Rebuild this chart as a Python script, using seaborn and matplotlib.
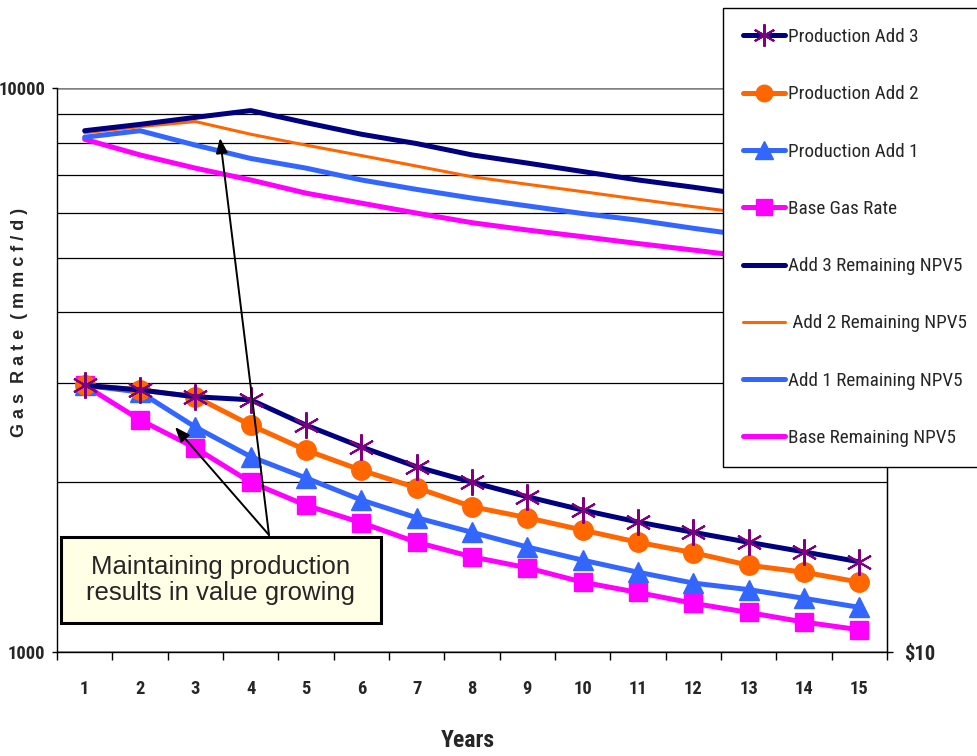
import numpy as np
import pandas as pd
import matplotlib
matplotlib.use("Agg")
import matplotlib.pyplot as plt
from matplotlib import font_manager
from matplotlib.ticker import NullFormatter, FixedLocator
from matplotlib.patches import Rectangle
from matplotlib.transforms import IdentityTransform
import seaborn as sns

# Data
years = list(range(1, 16))

# gas rate, mmcf/d (left axis, log)
base_rate = [2970, 2580, 2300, 2000, 1820, 1695, 1565, 1475, 1410, 1330, 1275, 1220, 1175, 1130, 1095]
add1_rate = [2970, 2890, 2505, 2220, 2035, 1860, 1730, 1630, 1535, 1455, 1385, 1325, 1290, 1245, 1200]
add2_rate = [2970, 2915, 2835, 2525, 2280, 2100, 1955, 1810, 1730, 1645, 1565, 1500, 1425, 1385, 1330]
add3_rate = [2970, 2915, 2835, 2800, 2525, 2310, 2130, 2000, 1885, 1785, 1700, 1630, 1565, 1505, 1445]

# remaining NPV5, $ (right axis, log)
base_npv = [81.1, 76.1, 72.1, 68.7, 65.1, 62.5, 60.0, 57.7, 56.0, 54.5, 53.0, 51.6, 50.2, 48.9, 47.6]
add1_npv = [81.8, 84.0, 79.2, 75.0, 72.1, 68.7, 66.1, 63.8, 61.8, 59.9, 58.3, 56.4, 54.7, 53.1, 51.6]
add2_npv = [83.3, 85.4, 87.2, 82.8, 79.2, 75.9, 72.7, 69.6, 67.5, 65.5, 63.5, 61.6, 59.9, 58.3, 56.8]
add3_npv = [84.0, 86.2, 88.7, 91.2, 86.8, 82.8, 79.7, 76.1, 73.6, 71.1, 68.7, 66.7, 64.6, 62.8, 61.0]

rate_labels = ["Base Gas Rate", "Production Add 1", "Production Add 2", "Production Add 3"]
npv_labels = ["Base Remaining NPV5", "Add 1 Remaining NPV5", " Add 2 Remaining NPV5", "Add 3 Remaining NPV5"]

sns.set_style("white")
plt.rcParams["font.family"] = ["Liberation Sans", "DejaVu Sans"]

# pick a narrow sans face if one is installed, else shrink the regular one
fonts = font_manager.fontManager.ttflist
names = {f.name for f in fonts}
if "Liberation Sans Narrow" in names:
    narrow, stretch, k = "Liberation Sans Narrow", "normal", 1.0
elif "Roboto Condensed" in names:
    narrow, stretch, k = "Roboto Condensed", "normal", 0.95
elif any(f.name == "DejaVu Sans" and f.stretch == "condensed" for f in fonts):
    narrow, stretch, k = "DejaVu Sans", "condensed", 0.85
else:
    narrow, stretch, k = "Liberation Sans", "normal", 0.82


def nfont(size, weight="normal"):
    return font_manager.FontProperties(family=narrow, stretch=stretch, size=size * k, weight=weight)


fig = plt.figure(figsize=(9.77, 7.56), dpi=100)
ax = fig.add_axes([57 / 977, 104 / 756, 830 / 977, 564 / 756])
ax2 = ax.twinx()

NAVY, ORANGE, BLUE, MAGENTA, PURPLE = "#000080", "#FF6600", "#3366FF", "#FF00FF", "#800080"

df = pd.DataFrame({"year": years, "base": base_rate, "add1": add1_rate, "add2": add2_rate,
                   "add3": add3_rate, "base_npv": base_npv, "add1_npv": add1_npv,
                   "add2_npv": add2_npv, "add3_npv": add3_npv})

handles = {}

# production series with markers
styles = [
    ("base", rate_labels[0], MAGENTA, "s", 13, MAGENTA, 1),
    ("add1", rate_labels[1], BLUE, "^", 15, BLUE, 1),
    ("add2", rate_labels[2], ORANGE, "o", 14, ORANGE, 1),
    ("add3", rate_labels[3], NAVY, (6, 2, 0), 19, PURPLE, 1.5),
]
for col, lab, c, m, ms, mec, mew in styles:
    sns.lineplot(data=df, x="year", y=col, ax=ax, color=c, linewidth=3.6, marker=m,
                 markersize=ms, markerfacecolor=mec, markeredgecolor=mec,
                 markeredgewidth=mew, errorbar=None, legend=False)
    ln = ax.lines[-1]
    ln.set_label(lab)
    handles[lab] = ln

# NPV series on the secondary axis
npv_styles = [
    ("base_npv", npv_labels[0], MAGENTA, 3.6),
    ("add1_npv", npv_labels[1], BLUE, 3.6),
    ("add2_npv", npv_labels[2], ORANGE, 2.2),
    ("add3_npv", npv_labels[3], NAVY, 3.6),
]
for col, lab, c, lw in npv_styles:
    sns.lineplot(data=df, x="year", y=col, ax=ax2, color=c, linewidth=lw,
                 errorbar=None, legend=False)
    ln = ax2.lines[-1]
    ln.set_label(lab)
    handles[lab] = ln

# left axis
ax.set_yscale("log")
ax.set_ylim(1000, 10000)
ax.set_yticks([1000, 10000])
ax.set_yticklabels(["1000", "10000"], fontproperties=nfont(14, "bold"))
ax.yaxis.set_minor_formatter(NullFormatter())
ax.tick_params(axis="y", which="major", length=3.6, width=1, pad=5, color="black", left=True)
ax.tick_params(axis="y", which="minor", length=0)
ax.grid(axis="y", which="minor", color="black", linewidth=0.9)
ax.grid(axis="y", which="major", color="#808080", linewidth=1.8)
ax.grid(axis="x", visible=False)

ax.set_xlim(0.5, 15.5)
ax.set_xticks(years)
ax.set_xticklabels([str(y) for y in years], fontproperties=nfont(14, "bold"))
ax.xaxis.set_minor_locator(FixedLocator(np.arange(0.5, 16, 1)))
ax.tick_params(axis="x", which="major", length=0, pad=20)
ax.tick_params(axis="x", which="minor", length=6, width=1, color="black", bottom=True)

ax.set_xlabel("Years", fontproperties=nfont(18, "bold"))
ax.xaxis.set_label_coords(0.495, -0.136)
ax.set_ylabel("G a s  R a t e  ( m m c f / d )", fontweight="bold", fontsize=13)
ax.yaxis.set_label_coords(-0.035, 0.585)

for s in ["left", "bottom", "right"]:
    ax.spines[s].set_color("black")
    ax.spines[s].set_linewidth(1)
ax.spines["top"].set_visible(False)

# right axis (the upper tick sits behind the legend, as in the original)
ax2.set_yscale("log")
ax2.set_ylim(10, 100)
ax2.set_yticks([10, 100])
ax2.set_yticklabels(["$10", ""], fontproperties=nfont(15.5, "bold"))
ax2.yaxis.set_minor_locator(FixedLocator([]))
ax2.tick_params(axis="y", which="major", length=4.3, width=1, pad=8, color="black", right=True)
ax2.set_ylabel("")
ax2.grid(False)
for s in ["top", "left", "bottom"]:
    ax2.spines[s].set_visible(False)
ax2.spines["right"].set_color("black")

# callout box and arrows (figure pixels, origin bottom-left)
ax2.add_artist(Rectangle((61, 756 - 623), 320, 86, transform=IdentityTransform(),
                         facecolor="#FFFFE6", edgecolor="black", linewidth=2.2, zorder=5))
ax2.text(221, 756 - 580, "Maintaining production\nresults in value growing",
         transform=IdentityTransform(), ha="center", va="center", fontsize=18.5,
         linespacing=1.12, zorder=6)
for tip in [(175, 329), (220, 618)]:
    ax2.annotate("", xy=tip, xycoords="figure pixels", xytext=(269, 221),
                 textcoords="figure pixels", annotation_clip=False, zorder=7,
                 arrowprops=dict(arrowstyle="-|>,head_length=0.9,head_width=0.35",
                                 color="black", lw=1.4, shrinkA=0, shrinkB=0))

order = [rate_labels[3], rate_labels[2], rate_labels[1], rate_labels[0],
         npv_labels[3], npv_labels[2], npv_labels[1], npv_labels[0]]
leg = fig.legend([handles[kk] for kk in order], order,
                 loc="upper left", bbox_to_anchor=(723 / 977, 1 - 8 / 756, 0.3, 0.0),
                 mode="expand", frameon=True, fancybox=False, framealpha=1,
                 edgecolor="black", facecolor="white", prop=nfont(14.5),
                 labelspacing=1.95 / k, borderpad=1.0 / k, handlelength=2.1 / k,
                 handletextpad=0.15, borderaxespad=0, markerscale=0.85)
leg.get_frame().set_linewidth(1)

fig.savefig("out.png", dpi=100)
